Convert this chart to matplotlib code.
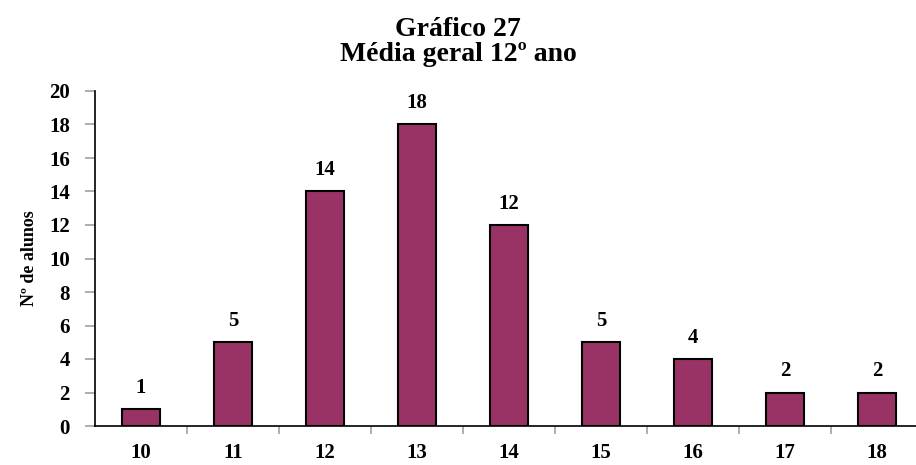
import matplotlib.pyplot as plt

notas = ['10', '11', '12', '13', '14', '15', '16', '17', '18']
alunos = [1, 5, 14, 18, 12, 5, 4, 2, 2]

plt.rcParams['font.family'] = 'Liberation Serif'
plt.rcParams['font.weight'] = 'bold'

fig = plt.figure(figsize=(9.16, 4.65), dpi=100)
ax = fig.add_axes([95 / 916, 39 / 465, 828 / 916, 335 / 465])

x = list(range(len(notas)))
bars = ax.bar(x, alunos, width=0.42, color='#993366', edgecolor='black', linewidth=1.5, zorder=3)
for xi, v in zip(x, alunos):
    ax.annotate(str(v), (xi, v), xytext=(0, 8), textcoords='offset points',
                ha='center', va='bottom', fontsize=15, fontweight='bold')

ax.set_xlim(-0.5, len(notas) - 0.5)
ax.set_ylim(0, 20)
ax.set_yticks(range(0, 21, 2))
ax.set_xticks(x)
ax.set_xticklabels(notas)
ax.set_xticks([i + 0.5 for i in x], minor=True)
ax.tick_params(axis='x', which='major', length=0, pad=12.5, labelsize=15)
ax.tick_params(axis='x', which='minor', length=6, color='#a0a0a0', width=1.2, direction='out')
ax.tick_params(axis='y', length=7, color='#a0a0a0', width=1.2, pad=11, labelsize=15)

for s in ['top', 'right']:
    ax.spines[s].set_visible(False)
ax.spines['left'].set_linewidth(1.2)
ax.spines['bottom'].set_linewidth(1.2)

ax.set_ylabel('Nº de alunos', fontsize=13, fontweight='bold', labelpad=8)
fig.text(0.5, 0.964, 'Gráfico 27\nMédia geral 12º ano', ha='center', va='top',
         fontsize=20, fontweight='bold', linespacing=1.0)

fig.savefig('out.png', dpi=100)
